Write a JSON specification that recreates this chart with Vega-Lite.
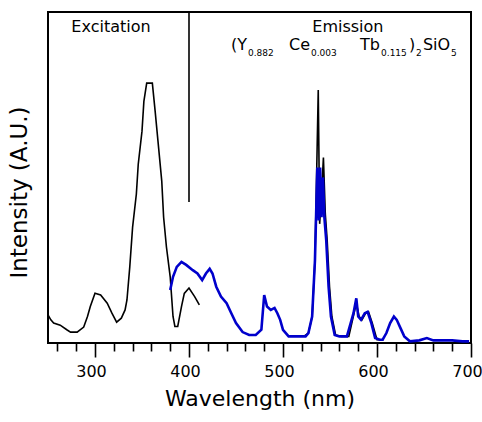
{
  "$schema": "https://vega.github.io/schema/vega-lite/v6.json",
  "autosize": "none",
  "width": 423,
  "height": 331,
  "padding": {"left": 48, "top": 12, "right": 11, "bottom": 79},
  "background": "white",
  "config": {"view": {"stroke": "black", "strokeWidth": 2}, "font": "DejaVu Sans"},
  "resolve": {"axis": {"x": "independent"}},
  "datasets": {
    "excitation": [
      {"wl": 250, "int": 8.5}, {"wl": 253, "int": 7}, {"wl": 256, "int": 6}, {"wl": 263, "int": 5.4},
      {"wl": 270, "int": 4}, {"wl": 274, "int": 3.3}, {"wl": 281, "int": 3.3}, {"wl": 288, "int": 4.8},
      {"wl": 292, "int": 8}, {"wl": 295, "int": 11}, {"wl": 300, "int": 15}, {"wl": 306, "int": 14.5},
      {"wl": 313, "int": 12}, {"wl": 318, "int": 9}, {"wl": 323, "int": 6.3}, {"wl": 328, "int": 7.5},
      {"wl": 332, "int": 10}, {"wl": 334, "int": 13}, {"wl": 337, "int": 23}, {"wl": 340, "int": 35},
      {"wl": 344, "int": 45}, {"wl": 346, "int": 54}, {"wl": 350, "int": 64}, {"wl": 352, "int": 73},
      {"wl": 355, "int": 78.5}, {"wl": 361, "int": 78.5}, {"wl": 364, "int": 70}, {"wl": 367, "int": 61},
      {"wl": 371, "int": 49}, {"wl": 373, "int": 38}, {"wl": 376, "int": 29}, {"wl": 380, "int": 20},
      {"wl": 383, "int": 8}, {"wl": 385, "int": 5}, {"wl": 388, "int": 5}, {"wl": 392, "int": 11},
      {"wl": 395, "int": 15}, {"wl": 400, "int": 16.6}, {"wl": 406, "int": 14}, {"wl": 411, "int": 11.5}
    ],
    "emissionA": [
      {"wl": 522, "int": 2}, {"wl": 527, "int": 3}, {"wl": 531, "int": 8}, {"wl": 534, "int": 25},
      {"wl": 537.5, "int": 76.4}, {"wl": 539, "int": 36}, {"wl": 541, "int": 45}, {"wl": 543, "int": 56},
      {"wl": 545, "int": 39}, {"wl": 547, "int": 31}, {"wl": 549.5, "int": 17}, {"wl": 552, "int": 8},
      {"wl": 556, "int": 2.4}, {"wl": 562, "int": 2}, {"wl": 570, "int": 2}, {"wl": 574, "int": 7},
      {"wl": 578, "int": 12}, {"wl": 581, "int": 8}, {"wl": 584, "int": 7}, {"wl": 588, "int": 9},
      {"wl": 591, "int": 9.4}, {"wl": 595, "int": 6}, {"wl": 600, "int": 1}, {"wl": 607, "int": 1}
    ],
    "emissionB": [
      {"wl": 380, "int": 16}, {"wl": 383, "int": 20}, {"wl": 387, "int": 23}, {"wl": 392, "int": 24.5},
      {"wl": 397, "int": 23.6}, {"wl": 404, "int": 22}, {"wl": 409, "int": 21}, {"wl": 414, "int": 19},
      {"wl": 418, "int": 21}, {"wl": 422, "int": 22.4}, {"wl": 425, "int": 21}, {"wl": 429, "int": 17},
      {"wl": 434, "int": 14}, {"wl": 440, "int": 12}, {"wl": 445, "int": 9}, {"wl": 450, "int": 6},
      {"wl": 457, "int": 3.3}, {"wl": 464, "int": 2.4}, {"wl": 471, "int": 2.4}, {"wl": 477, "int": 4},
      {"wl": 480, "int": 14.5}, {"wl": 483, "int": 11}, {"wl": 487, "int": 10}, {"wl": 491, "int": 10.6},
      {"wl": 494, "int": 9}, {"wl": 497, "int": 7}, {"wl": 500, "int": 4}, {"wl": 506, "int": 2},
      {"wl": 515, "int": 2}, {"wl": 524, "int": 2}, {"wl": 527, "int": 3}, {"wl": 531, "int": 8},
      {"wl": 534, "int": 25}, {"wl": 536.5, "int": 53}, {"wl": 538, "int": 37}, {"wl": 539.5, "int": 53},
      {"wl": 541, "int": 38}, {"wl": 542.5, "int": 50}, {"wl": 544, "int": 38}, {"wl": 546, "int": 31},
      {"wl": 548.5, "int": 17}, {"wl": 551, "int": 8}, {"wl": 555, "int": 2.4}, {"wl": 560, "int": 2},
      {"wl": 568, "int": 2}, {"wl": 572, "int": 6}, {"wl": 575, "int": 9}, {"wl": 578, "int": 13.5},
      {"wl": 580, "int": 8}, {"wl": 583, "int": 7}, {"wl": 587, "int": 9}, {"wl": 590, "int": 9.4},
      {"wl": 594, "int": 6}, {"wl": 598, "int": 1.5}, {"wl": 603, "int": 1}, {"wl": 606, "int": 1},
      {"wl": 610, "int": 3}, {"wl": 614, "int": 6}, {"wl": 618, "int": 8}, {"wl": 621, "int": 7},
      {"wl": 625, "int": 4.5}, {"wl": 629, "int": 2}, {"wl": 635, "int": 0.5}, {"wl": 645, "int": 0.8},
      {"wl": 653, "int": 1.5}, {"wl": 660, "int": 0.8}, {"wl": 670, "int": 0.8}, {"wl": 680, "int": 0.8},
      {"wl": 691, "int": 0.5}, {"wl": 698, "int": 0.5}
    ],
    "divider": [{"wl": 400, "int": 100, "int2": 42.6}],
    "headings": [
      {"wl": 317, "int": 95.5, "label": "Excitation"},
      {"wl": 569, "int": 95.5, "label": "Emission"}
    ],
    "formulaMain": [
      {"wl": 444.7, "int": 90, "label": "(Y"},
      {"wl": 506.4, "int": 90, "label": "Ce"},
      {"wl": 581.9, "int": 90, "label": "Tb"},
      {"wl": 634.0, "int": 90, "label": ")"},
      {"wl": 648.9, "int": 90, "label": "SiO"}
    ],
    "formulaSub": [
      {"wl": 462.8, "int": 87.5, "label": "0.882"},
      {"wl": 529.8, "int": 87.5, "label": "0.003"},
      {"wl": 604.3, "int": 87.5, "label": "0.115"},
      {"wl": 641.5, "int": 87.5, "label": "2"},
      {"wl": 678.7, "int": 87.5, "label": "5"}
    ]
  },
  "encoding": {
    "x": {
      "field": "wl", "type": "quantitative",
      "scale": {"domain": [250, 700], "nice": false, "zero": false},
      "axis": null
    },
    "y": {
      "field": "int", "type": "quantitative",
      "scale": {"domain": [0, 100], "nice": false},
      "axis": {
        "labels": false, "ticks": false, "domain": false, "grid": false,
        "title": "Intensity (A.U.)", "titleFont": "DejaVu Sans", "titleFontSize": 23,
        "titleFontWeight": "normal", "titleColor": "black", "titlePadding": 17, "titleY": 180
      }
    }
  },
  "layer": [
    {
      "data": {"name": "excitation"},
      "mark": {"type": "line", "color": "black", "strokeWidth": 1.6},
      "encoding": {
        "x": {
          "field": "wl", "type": "quantitative",
          "scale": {"domain": [250, 700], "nice": false, "zero": false},
          "axis": {
            "orient": "bottom",
            "values": [300, 400, 500, 600, 700],
            "tickSize": 14, "tickColor": "black", "tickWidth": 1.6,
            "domain": false, "grid": false,
            "labelFont": "DejaVu Sans", "labelFontSize": 16, "labelColor": "black", "labelPadding": 6,
            "labelOffset": -4, "labelFlush": false, "labelOverlap": false,
            "title": "Wavelength (nm)", "titleFont": "DejaVu Sans", "titleFontSize": 22,
            "titleFontWeight": "normal", "titleColor": "black", "titlePadding": 9
          }
        }
      }
    },
    {
      "data": {"name": "emissionA"},
      "mark": {"type": "line", "color": "black", "strokeWidth": 1.6},
      "encoding": {
        "x": {
          "field": "wl", "type": "quantitative",
          "scale": {"domain": [250, 700], "nice": false, "zero": false},
          "axis": {
            "orient": "bottom",
            "values": [260, 280, 320, 340, 360, 380, 420, 440, 460, 480, 520, 540, 560, 580, 620, 640, 660, 680],
            "tickSize": 8, "tickColor": "black", "tickWidth": 1.6,
            "domain": false, "grid": false, "labels": false, "title": null
          }
        }
      }
    },
    {
      "data": {"name": "emissionB"},
      "mark": {"type": "line", "color": "#0000cc", "strokeWidth": 2.6}
    },
    {
      "data": {"name": "divider"},
      "mark": {"type": "rule", "color": "black", "strokeWidth": 1.6},
      "encoding": {"y2": {"field": "int2"}}
    },
    {
      "data": {"name": "headings"},
      "mark": {"type": "text", "font": "DejaVu Sans", "fontSize": 16, "color": "black", "align": "center", "baseline": "middle"},
      "encoding": {"text": {"field": "label"}}
    },
    {
      "data": {"name": "formulaMain"},
      "mark": {"type": "text", "font": "DejaVu Sans", "fontSize": 16, "color": "black", "align": "left", "baseline": "middle"},
      "encoding": {"text": {"field": "label"}}
    },
    {
      "data": {"name": "formulaSub"},
      "mark": {"type": "text", "font": "DejaVu Sans", "fontSize": 9, "color": "black", "align": "left", "baseline": "middle"},
      "encoding": {"text": {"field": "label"}}
    }
  ]
}
